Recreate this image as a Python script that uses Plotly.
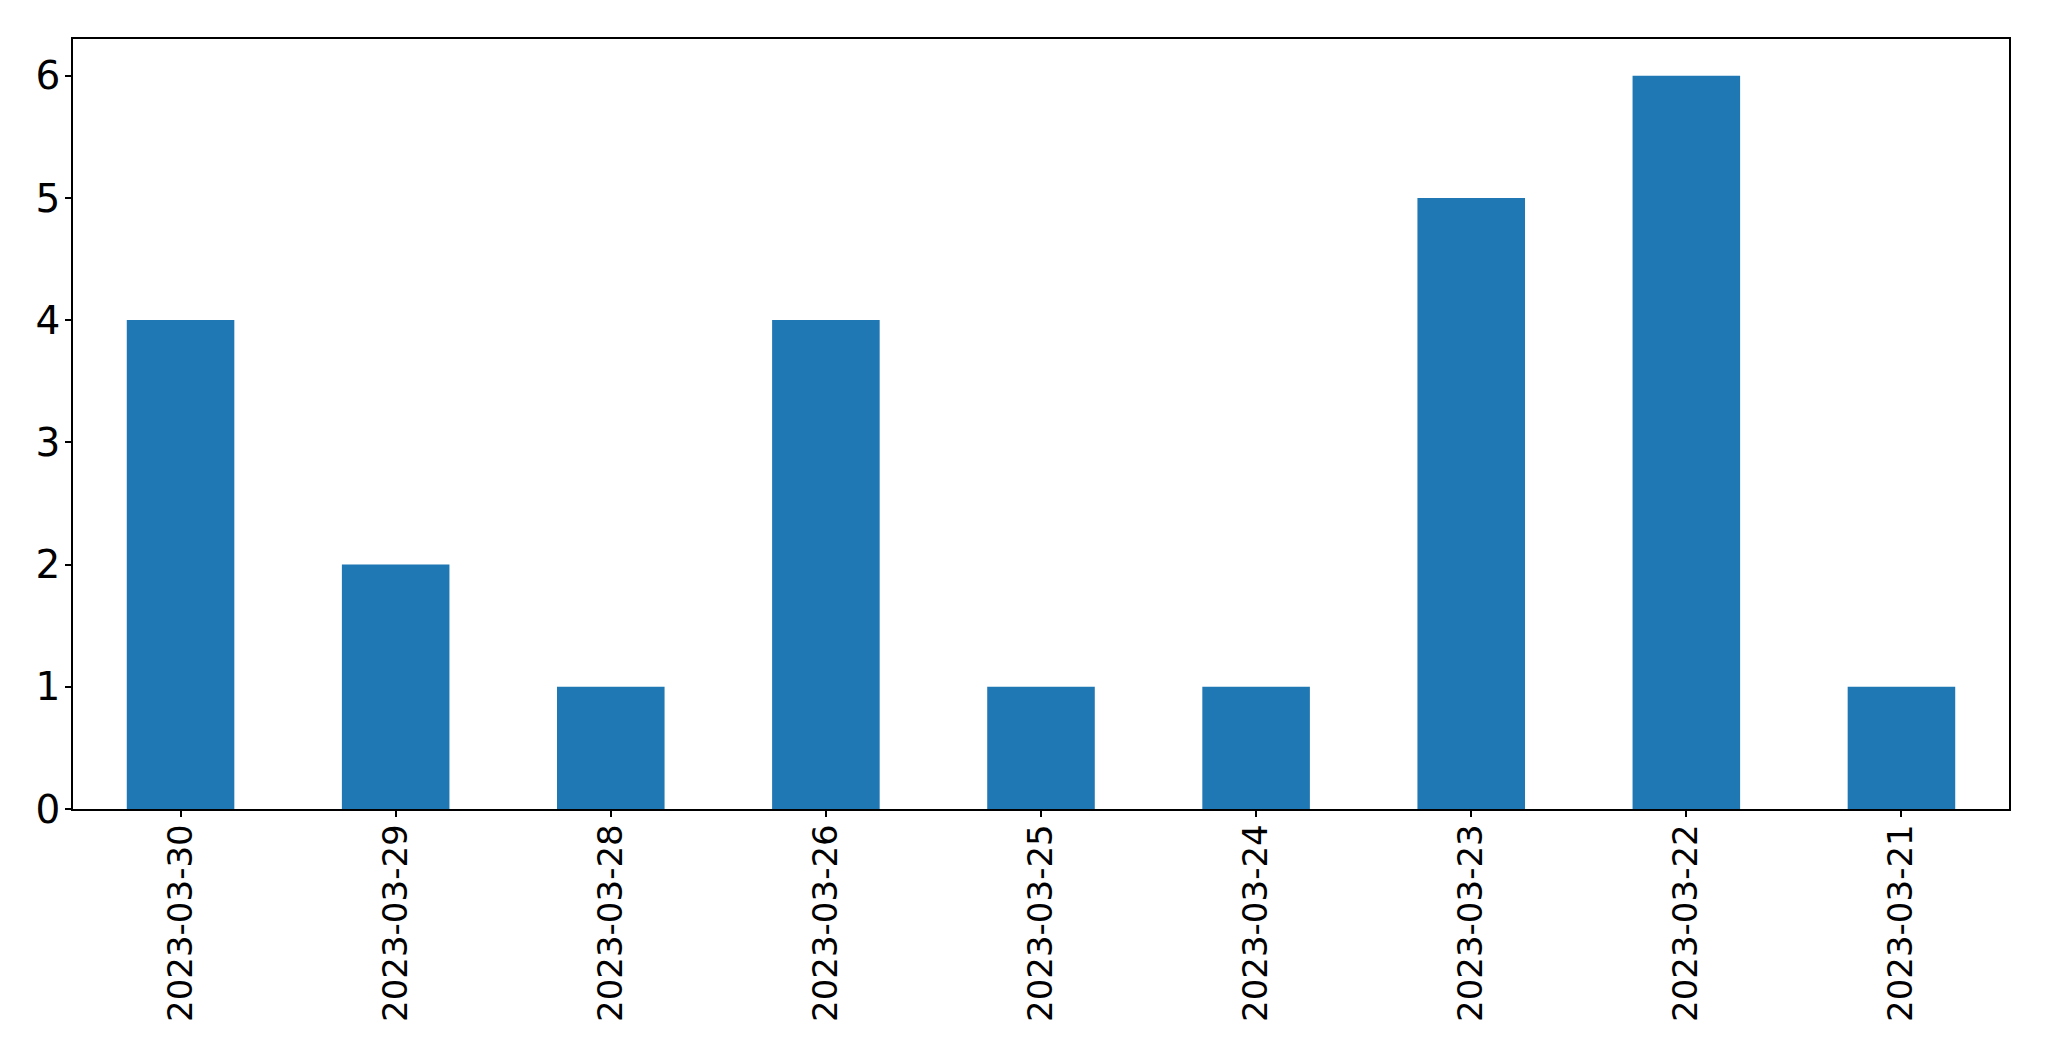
import plotly.graph_objects as go

dates = ["2023-03-30", "2023-03-29", "2023-03-28", "2023-03-26", "2023-03-25",
         "2023-03-24", "2023-03-23", "2023-03-22", "2023-03-21"]
counts = [4, 2, 1, 4, 1, 1, 5, 6, 1]
y_ticks = [0, 1, 2, 3, 4, 5, 6]

fig = go.Figure(go.Bar(x=dates, y=counts, marker_color="#1f77b4",
                       marker_line_width=0, width=0.5))

fig.update_layout(
    width=2049, height=1061,
    margin=dict(l=73, r=40, t=39, b=252),
    paper_bgcolor="white", plot_bgcolor="white",
    font=dict(family="DejaVu Sans", size=34, color="black"),
    showlegend=False,
)
fig.update_xaxes(type="category", range=[-0.5, 8.5], tickangle=-90,
                 tickfont=dict(size=34),
                 showline=True, linecolor="black", linewidth=1.5, mirror=True,
                 ticks="outside", ticklen=6, tickwidth=1.5, tickcolor="black",
                 showgrid=False, zeroline=False, ticklabelstandoff=-6)
fig.update_yaxes(range=[0, 6.3], tickvals=y_ticks, tickfont=dict(size=39),
                 showline=True, linecolor="black", linewidth=1.5, mirror=True,
                 ticks="outside", ticklen=6, tickwidth=1.5, tickcolor="black",
                 showgrid=False, zeroline=False, ticklabelstandoff=-3)

fig.write_html("out.html")
